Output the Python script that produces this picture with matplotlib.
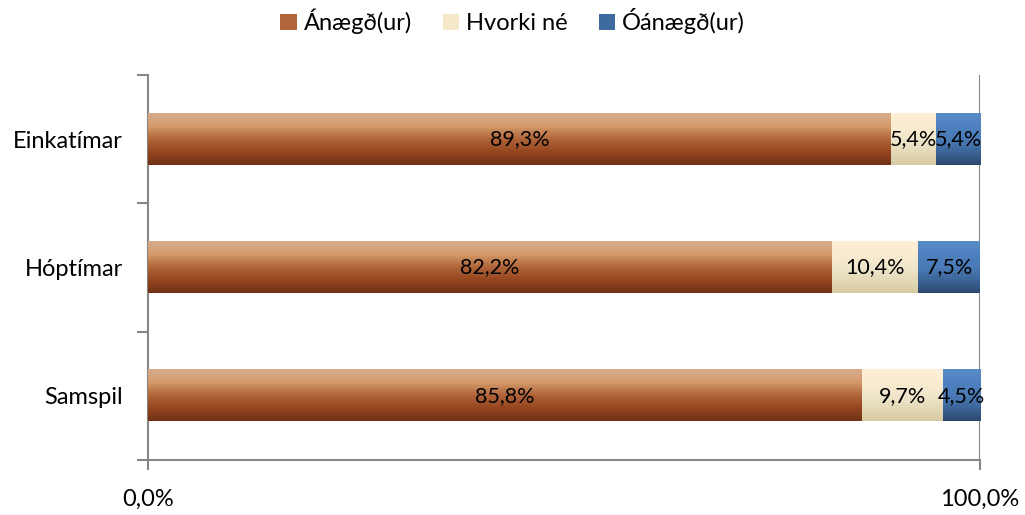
import numpy as np
import matplotlib
matplotlib.use('Agg')
import matplotlib.pyplot as plt
from matplotlib.colors import LinearSegmentedColormap
from matplotlib.patches import Patch

plt.rcParams['font.family'] = ['Lato', 'DejaVu Sans']

flokkar = ['Einkatímar', 'Hóptímar', 'Samspil']
anaegd = [89.3, 82.2, 85.8]
hvorki = [5.4, 10.4, 9.7]
oanaegd = [5.4, 7.5, 4.5]
radir = ['Ánægð(ur)', 'Hvorki né', 'Óánægð(ur)']

# litir: efst -> neðst i hverri slá
litir = [
    ['#d8ab8c', '#d49a6a', '#b0653a', '#96461f', '#6e3214'],
    ['#fdf0d6', '#faecd0', '#f0e6cc', '#e4dab8', '#d6caa4'],
    ['#5a8cc8', '#4f80bf', '#4a7bb8', '#3d6699', '#2c4a70'],
]
mid = ['#b0653a', '#f5e9c9', '#3f6aa0']

fig = plt.figure(figsize=(10.25, 5.15), dpi=100)
ax = fig.add_axes([148/1025, 55/515, 832/1025, 385/515])

y = np.arange(len(flokkar))
h = 0.4
fs = 17
gogn = [anaegd, hvorki, oanaegd]
vinstri = np.zeros(len(flokkar))
for k, rod in enumerate(gogn):
    cmap = LinearSegmentedColormap.from_list('g%d' % k, litir[k])
    grad = np.linspace(0, 1, 100).reshape(-1, 1)
    for i in range(len(flokkar)):
        x0 = vinstri[i]
        x1 = x0 + rod[i]
        ax.imshow(grad, cmap=cmap, aspect='auto', interpolation='bilinear',
                  extent=(x0, x1, y[i] + h/2, y[i] - h/2), zorder=3)
        ax.text((x0 + x1) / 2, y[i], f'{rod[i]:.1f}%'.replace('.', ','),
                ha='center', va='center', fontsize=15.5, color='black', zorder=5)
    vinstri += np.array(rod)

ax.set_xlim(0, 100)
ax.set_ylim(2.5, -0.5)
ax.axvline(100, color='#878787', lw=1.5, zorder=2)

for s in ['top', 'right']:
    ax.spines[s].set_visible(False)
for s in ['left', 'bottom']:
    ax.spines[s].set_color('#878787')
    ax.spines[s].set_linewidth(1.5)

ax.set_xticks([0, 100])
ax.set_xticklabels(['0,0%', '100,0%'], fontsize=fs)
ax.tick_params(axis='x', length=7, width=1.5, color='#878787', pad=14)

ax.set_yticks(y)
ax.set_yticklabels(flokkar, fontsize=fs)
ax.tick_params(axis='y', which='major', length=0, pad=18)
ax.set_yticks([-0.5, 0.5, 1.5, 2.5], minor=True)
ax.tick_params(axis='y', which='minor', length=8, width=1.5, color='#878787')

handles = [Patch(facecolor=mid[k], edgecolor='none') for k in range(3)]
fig.legend(handles, radir, loc='upper center', bbox_to_anchor=(0.5, 1.025),
           ncol=3, frameon=False, fontsize=fs, handlelength=0.7, handleheight=0.7,
           handletextpad=0.3, columnspacing=1.3)

fig.savefig('out.png', dpi=100)
